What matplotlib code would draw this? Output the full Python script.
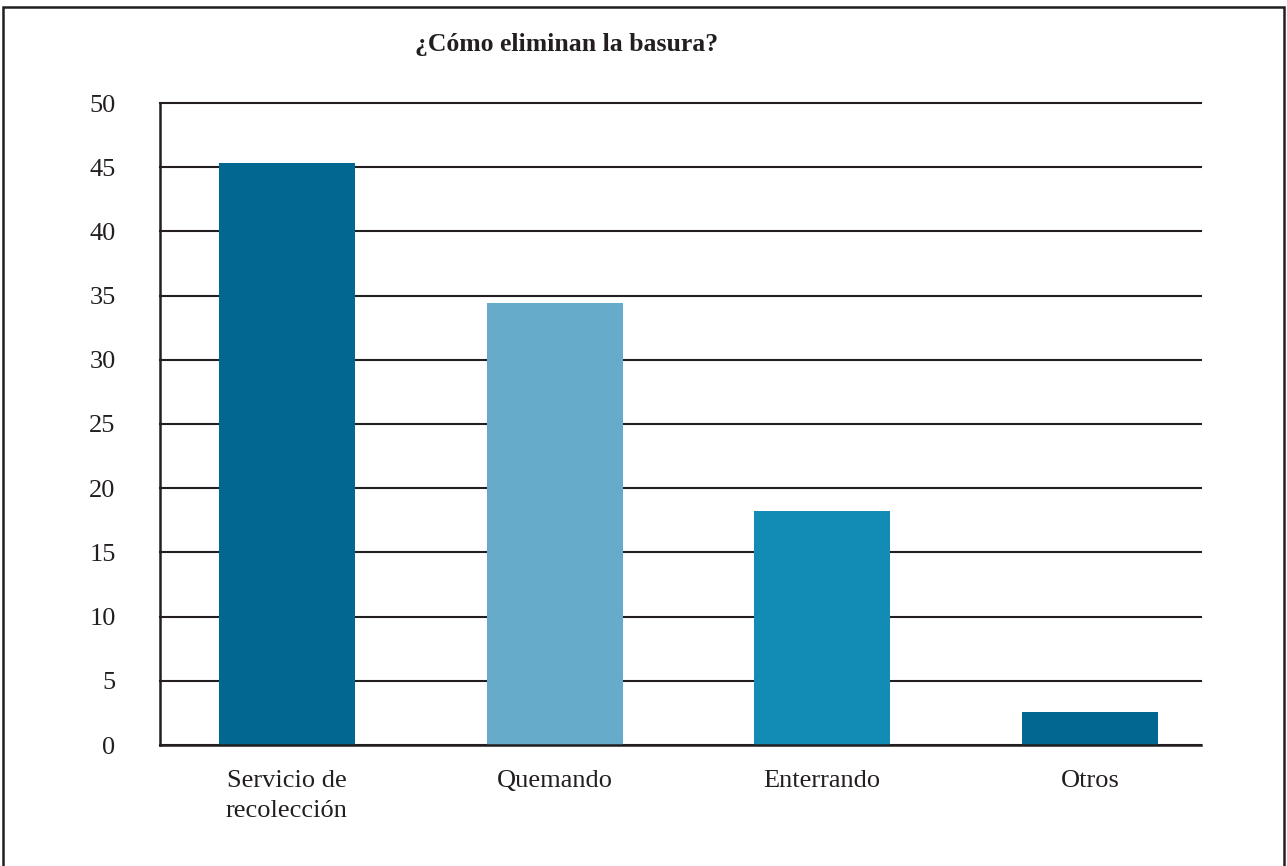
import numpy as np
import matplotlib
matplotlib.use("Agg")
import matplotlib.pyplot as plt
from matplotlib.patches import Rectangle

categories = ["Servicio de\nrecolección", "Quemando", "Enterrando", "Otros"]
values = [45.3, 34.4, 18.2, 2.6]
colors = ["#026891", "#66abca", "#128bb5", "#026891"]
yticks = [0, 5, 10, 15, 20, 25, 30, 35, 40, 45, 50]

plt.rcParams['font.family'] = ['Liberation Serif', 'DejaVu Serif']

fig = plt.figure(figsize=(12.87, 8.66), dpi=100)
ax = fig.add_axes([160 / 1287, 1 - 745 / 866, (1201 - 160) / 1287, (745 - 103) / 866])

x = np.arange(len(categories))
ax.bar(x, values, width=0.508, color=colors, zorder=3)

ax.set_ylim(0, 50)
ax.set_xlim(-0.474, 3.415)
ax.set_yticks(yticks)
ax.set_xticks(x)
ax.set_xticklabels(categories, fontsize=19, color="#231f20", linespacing=1.45)
ax.tick_params(axis="y", length=0, pad=32, labelsize=19, labelcolor="#231f20")
ax.tick_params(axis="x", length=0, pad=18)
for lbl in ax.get_yticklabels():
    lbl.set_horizontalalignment("right")

ax.grid(axis="y", color="#231f20", linewidth=1.5, zorder=1)
for gl in ax.get_ygridlines():
    gl.set_clip_on(False)
for s in ["top", "right"]:
    ax.spines[s].set_visible(False)
for s in ["left", "bottom"]:
    ax.spines[s].set_color("#231f20")
    ax.spines[s].set_linewidth(1.8)
    ax.spines[s].set_zorder(4)

fig.text(415 / 1287, 1 - 45 / 866, "¿Cómo eliminan la basura?", fontsize=18.5,
         fontweight="bold", color="#231f20", va="center", ha="left")

fig.patches.append(Rectangle((3 / 1287, -0.05), 1281 / 1287, 1.05 - 7 / 866,
                             transform=fig.transFigure, fill=False,
                             edgecolor="#231f20", linewidth=1.8))

fig.savefig("out.png", dpi=100)
